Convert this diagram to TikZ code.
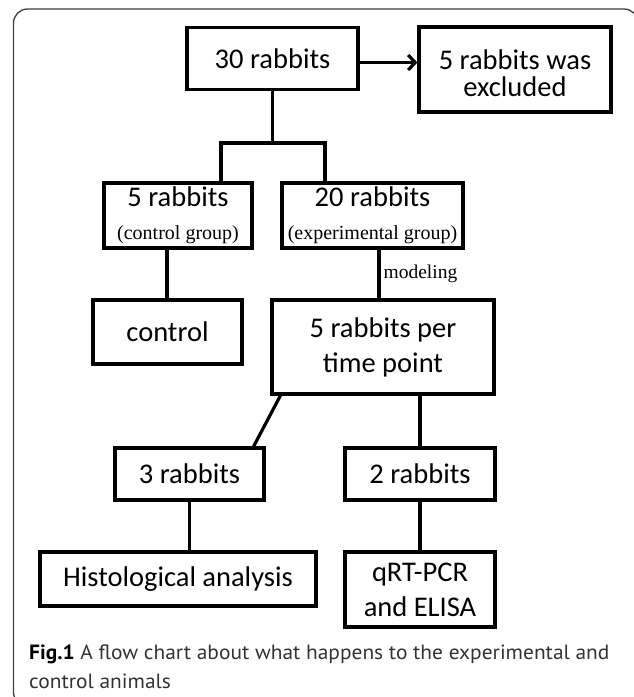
\documentclass[tikz,border=0pt]{standalone}
\usepackage{fontspec}
\newfontfamily\boxf{Carlito}
\newfontfamily\serf{Liberation Serif}
\newfontfamily\capf[FakeStretch=1.04]{PT Sans}
\usetikzlibrary{arrows.meta}
\begin{document}
\begin{tikzpicture}[x=1pt,y=-1pt,
  box/.style={draw, line width=3.2pt, inner sep=0pt, align=center,
    font=\boxf\fontsize{28.5}{35}\selectfont},
  conn/.style={line width=3.2pt},
  arr/.style={line width=3.2pt, -{Straight Barb[length=7pt,width=15pt,line width=3.2pt]}},
  txt/.style={inner sep=0pt, align=center},
  frame/.style={line width=1.3pt, black!75, rounded corners=14pt},
  capt/.style={anchor=base west, inner sep=0pt, text=black!80,
    font=\capf\fontsize{20.6}{29}\selectfont}]
\useasboundingbox (0,0) rectangle (634,697);
\fill[white] (0,0) rectangle (634,697);
\draw[frame] (13.5,9) rectangle (638,706);

% boxes
\node[box, minimum width=171pt, minimum height=62pt] (n30) at (272.5,58.5) {30 rabbits};
\node[box, minimum width=192pt, minimum height=85pt] (excl) at (515,69.5) {};
\node[txt, font=\boxf\fontsize{28.5}{27}\selectfont] (exclt) at (515,73.5) {5 rabbits was\\excluded};

\node[box, minimum width=148pt, minimum height=65pt, font=\boxf\fontsize{28.5}{33}\selectfont] (ctrl5) at (178,215.5) {5 rabbits\\\serf\fontsize{20}{33}\selectfont (control group)};
\node[box, minimum width=181pt, minimum height=65pt, font=\boxf\fontsize{28.5}{33}\selectfont] (exp20) at (372.5,215.5) {20 rabbits\\\serf\fontsize{20}{33}\selectfont (experimental group)};

\node[box, minimum width=149pt, minimum height=64pt] (control) at (167.5,332) {control};
\node[box, minimum width=222pt, minimum height=94pt] (per) at (383,347) {5 rabbits per\\time point};

\node[box, minimum width=149pt, minimum height=52pt] (r3) at (189.5,474) {3 rabbits};
\node[box, minimum width=150pt, minimum height=52pt] (r2) at (420,474) {2 rabbits};

\node[box, minimum width=276pt, minimum height=54pt] (hist) at (178,579) {Histological analysis};
\node[box, minimum width=150pt, minimum height=75pt] (qrt) at (420,589.5) {qRT-PCR\\and ELISA};

% connectors
\draw[arr] ([yshift=-4pt]n30.east) -- ([yshift=-4pt]n30.east -| excl.west);

\coordinate (bl) at (221,143);
\coordinate (br) at (325,143);
\draw[conn] (n30.south) -- (n30.south |- bl);
\draw[conn, line cap=rect] (bl) -- (br);
\draw[conn] (bl) -- (bl |- ctrl5.north);
\draw[conn] (br) -- (br |- exp20.north);

\draw[conn] ([xshift=-0.5pt]control.north) -- ([xshift=-0.5pt]control.north |- ctrl5.south);
\draw[conn] ([xshift=-4pt]per.north) -- node[anchor=west, inner sep=3pt, font=\serf\fontsize{19.5}{20}\selectfont] (modl) {modeling} ([xshift=-4pt]per.north |- exp20.south);

\draw[conn] ([xshift=10pt]per.south west) -- ([xshift=-12pt]r3.north east);
\draw[conn] (r2.north) -- (r2.north |- per.south);
\draw[conn] (r3.south) -- (r3.south |- hist.north);
\draw[conn] (r2.south) -- (qrt.north);

% caption
\node[capt] (cap1) at (29,659) {{\color{black}\bfseries Fig.1} A flow chart about what happens to the experimental and};
\node[capt] (cap2) at (29,688) {control animals};
\end{tikzpicture}
\end{document}
